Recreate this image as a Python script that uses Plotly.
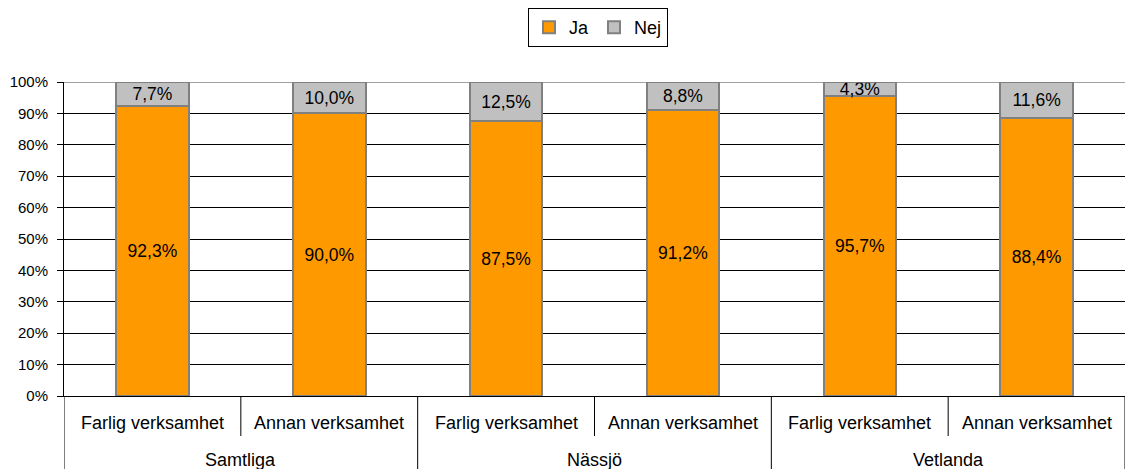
import plotly.graph_objects as go

groups = ["Samtliga", "Nässjö", "Vetlanda"]
subcats = ["Farlig verksamhet", "Annan verksamhet"]
ja = [92.3, 90.0, 87.5, 91.2, 95.7, 88.4]
nej = [7.7, 10.0, 12.5, 8.8, 4.3, 11.6]
y_ticks = list(range(0, 101, 10))

ORANGE = "#FF9900"
GREY = "#C0C0C0"
EDGE = "#808080"
FONT = "Liberation Sans, Arial, sans-serif"

x_pos = list(range(len(ja)))

fig = go.Figure()
for name, vals, color in [("Ja", ja, ORANGE), ("Nej", nej, GREY)]:
    fig.add_trace(
        go.Bar(
            x=x_pos,
            y=vals,
            name=name,
            marker=dict(color=color, line=dict(color=EDGE, width=2)),
            width=0.41,
            texttemplate="%{y:.1f}%",
            textposition="inside",
            insidetextanchor="middle",
            constraintext="none",
            textfont=dict(color="black", size=17.5, family=FONT),
            hovertemplate="%{y:.1f}%<extra>" + name + "</extra>",
        )
    )

# paper-space helpers (plot area is 314px tall, 73px margin below)
plot_h = 469 - 82 - 73


def below(px):
    return -px / plot_h


shapes = []
# top border of the plot area (grey like the Excel plot frame)
shapes.append(dict(type="line", xref="paper", yref="y", x0=0, x1=1, y0=100, y1=100,
                   line=dict(color=EDGE, width=1.5), layer="above"))
# group dividers run to the bottom, sub-category dividers stop halfway
for i in range(len(groups) + 1):
    xb = i * len(subcats) - 0.5
    shapes.append(dict(type="line", xref="x", yref="paper", x0=xb, x1=xb,
                       y0=0, y1=below(80), line=dict(color="black", width=1)))
for i in range(len(groups)):
    xb = i * len(subcats) + 0.5
    shapes.append(dict(type="line", xref="x", yref="paper", x0=xb, x1=xb,
                       y0=0, y1=below(40), line=dict(color="black", width=1)))

annotations = []
for i, g in enumerate(groups):
    for j, s in enumerate(subcats):
        annotations.append(dict(x=i * len(subcats) + j, y=below(27), xref="x", yref="paper",
                                text=s, showarrow=False, yanchor="middle",
                                font=dict(size=18, family=FONT, color="black")))
    annotations.append(dict(x=i * len(subcats) + 0.5, y=below(64), xref="x", yref="paper",
                            text=g, showarrow=False, yanchor="middle",
                            font=dict(size=18, family=FONT, color="black")))

fig.update_layout(
    barmode="stack",
    width=1125,
    height=469,
    margin=dict(l=64, r=0, t=82, b=73, autoexpand=False),
    paper_bgcolor="white",
    plot_bgcolor="white",
    separators=", ",
    font=dict(family=FONT, size=15, color="black"),
    showlegend=True,
    legend=dict(
        orientation="h",
        x=(598 - 64) / 1061, xanchor="center",
        y=1 + (82 - 8) / plot_h, yanchor="top",
        bordercolor="black", borderwidth=1,
        bgcolor="white",
        font=dict(size=18, family=FONT),
        itemwidth=30,
        tracegroupgap=0,
        traceorder="normal",
    ),
    shapes=shapes,
    annotations=annotations,
)

fig.update_xaxes(
    range=[-0.5, len(ja) - 0.5],
    showticklabels=False,
    ticks="",
    showgrid=False,
    showline=True,
    linecolor="black",
    linewidth=1,
    zeroline=False,
)
fig.update_yaxes(
    range=[0, 100],
    tickvals=y_ticks,
    ticktext=[f"{v}%" for v in y_ticks],
    ticks="outside",
    ticklen=6,
    tickcolor="black",
    ticklabelstandoff=6,
    showline=True,
    linecolor="black",
    linewidth=1,
    showgrid=True,
    gridcolor="black",
    gridwidth=1,
    zeroline=False,
    tickfont=dict(size=15, family=FONT),
)

fig.write_html(
    "out.html",
    config={"displayModeBar": False},
    post_script="document.body.style.margin='0';",
)
